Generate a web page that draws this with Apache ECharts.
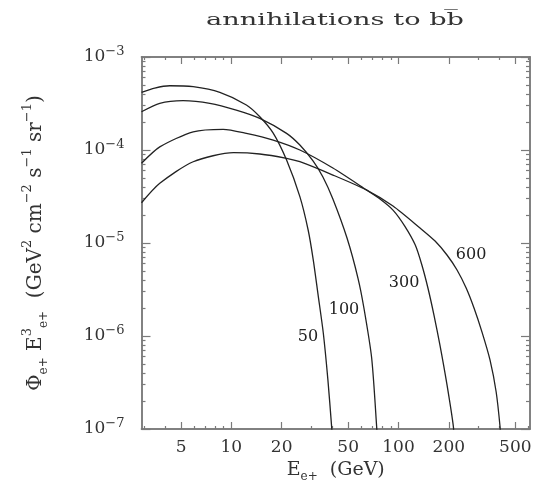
<!DOCTYPE html>
<html>
<head>
<meta charset="utf-8">
<script src="https://cdn.jsdelivr.net/npm/echarts@6/dist/echarts.min.js"></script>
<style>
  html, body { margin: 0; padding: 0; background: #fff; }
  #chart { width: 545px; height: 485px; }
</style>
</head>
<body>
<div id="chart"></div>
<script>
// WIMP masses (GeV), one curve each
const masses = ['50', '100', '300', '600'];

// positron energy (GeV) and flux Phi*E^3
const e50 = [2.9, 3.48, 4.28, 5.91, 8.53, 12.3, 14.8, 17.8, 21.4, 25.7, 28.8, 30.9, 33.0, 35.5, 37.8, 39.8, 40.5];
const f50 = [4.17e-4, 4.64e-4, 4.91e-4, 4.79e-4, 4.17e-4, 3.05e-4, 2.28e-4, 1.52e-4, 7.8e-5, 3.15e-5, 1.38e-5, 6.6e-6, 2.8e-6, 1.07e-6, 3.4e-7, 1.06e-7, 6.8e-8];

const e100 = [2.9, 3.73, 5.14, 7.43, 10.7, 14.8, 21.4, 25.7, 30.8, 35.3, 40.5, 49.2, 57.2, 62.1, 69.1, 74.0, 74.9];
const f100 = [2.58e-4, 3.18e-4, 3.39e-4, 3.18e-4, 2.69e-4, 2.19e-4, 1.51e-4, 1.13e-4, 7.62e-5, 5.13e-5, 2.97e-5, 1.13e-5, 4.2e-6, 2.0e-6, 5.8e-7, 1.06e-7, 6.8e-8];

const e300 = [2.9, 3.73, 5.91, 8.93, 12.3, 17.8, 25.7, 40.5, 64.5, 77.5, 92.7, 109, 126, 138, 150, 163, 177, 195, 213, 215];
const f300 = [7.19e-5, 1.08e-4, 1.57e-4, 1.67e-4, 1.51e-4, 1.28e-4, 1.0e-4, 6.4e-5, 3.71e-5, 2.97e-5, 2.26e-5, 1.52e-5, 9.5e-6, 5.8e-6, 3.28e-6, 1.68e-6, 8.0e-7, 3.0e-7, 1.06e-7, 6.8e-8];

const e600 = [2.9, 3.73, 5.91, 10.3, 14.8, 21.4, 25.7, 40.5, 64.5, 92.7, 134.5, 165.5, 195, 224, 254, 283, 316, 353, 384, 405, 411];
const f600 = [2.71e-5, 4.38e-5, 7.48e-5, 9.35e-5, 9.06e-5, 8.14e-5, 7.48e-5, 5.38e-5, 3.71e-5, 2.5e-5, 1.45e-5, 1.05e-5, 7.43e-6, 5.13e-6, 3.28e-6, 2.0e-6, 1.1e-6, 5.5e-7, 2.5e-7, 1.06e-7, 6.8e-8];

// where the mass labels sit next to each curve
const labelE = [28.7, 47.2, 108, 272];
const labelF = [9.75e-7, 1.9e-6, 3.72e-6, 7.43e-6];

// axis ticks
const xMajor = [5, 10, 20, 50, 100, 200, 500];
const xMinor = [3, 4, 6, 7, 8, 9, 30, 40, 60, 70, 80, 90, 300, 400, 600];
const yMajor = [1e-7, 1e-6, 1e-5, 1e-4, 1e-3];
const yMinor = [2e-7, 3e-7, 4e-7, 5e-7, 6e-7, 7e-7, 8e-7, 9e-7,
  2e-6, 3e-6, 4e-6, 5e-6, 6e-6, 7e-6, 8e-6, 9e-6,
  2e-5, 3e-5, 4e-5, 5e-5, 6e-5, 7e-5, 8e-5, 9e-5,
  2e-4, 3e-4, 4e-4, 5e-4, 6e-4, 7e-4, 8e-4, 9e-4];

const font = 'DejaVu Serif';
const frame = '#7a7a7a';
const ink = '#222';
const txt = '#333';

const xs = [e50, e100, e300, e600];
const fs = [f50, f100, f300, f600];

function xAxisOf(position, ticks, len, withLabels) {
  return {
    type: 'log', position: position, min: 2.9, max: 612,
    axisLine: { show: true, lineStyle: { color: frame, width: 1.5 } },
    axisTick: { show: true, inside: true, length: len, customValues: ticks, lineStyle: { color: frame, width: 1.2 } },
    axisLabel: withLabels ? {
      show: true, customValues: ticks, margin: 10, color: txt,
      fontFamily: font, fontSize: 17, formatter: v => String(v)
    } : { show: false },
    splitLine: { show: false },
    minorTick: { show: false }
  };
}

function yAxisOf(position, ticks, len, withLabels) {
  return {
    type: 'log', position: position, min: 1e-7, max: 1e-3,
    axisLine: { show: true, lineStyle: { color: frame, width: 1.5 } },
    axisTick: { show: true, inside: true, length: len, customValues: ticks, lineStyle: { color: frame, width: 1.2 } },
    axisLabel: withLabels ? {
      show: true, customValues: ticks, margin: 17, color: txt,
      formatter: v => '{b|10}{e|\u2212' + Math.round(-Math.log10(v)) + '}',
      rich: {
        b: { fontFamily: font, fontSize: 17, lineHeight: 24, color: txt },
        e: { fontFamily: font, fontSize: 13, lineHeight: 13, verticalAlign: 'top', color: txt }
      }
    } : { show: false },
    splitLine: { show: false },
    minorTick: { show: false }
  };
}

const xAxes = [
  xAxisOf('bottom', xMajor, 7, true),
  xAxisOf('bottom', xMinor, 3, false),
  xAxisOf('top', xMajor, 7, false),
  xAxisOf('top', xMinor, 3, false)
];
xAxes[0].name = '{t|E}{s|e+}{t|  (GeV)}';
xAxes[0].nameLocation = 'middle';
xAxes[0].nameGap = 26;
xAxes[0].nameTextStyle = {
  rich: {
    t: { fontFamily: font, fontSize: 19, lineHeight: 24, color: txt },
    s: { fontFamily: font, fontSize: 12, lineHeight: 12, verticalAlign: 'bottom', color: txt }
  }
};

const yAxes = [
  yAxisOf('left', yMajor, 9, true),
  yAxisOf('left', yMinor, 4, false),
  yAxisOf('right', yMajor, 9, false),
  yAxisOf('right', yMinor, 4, false)
];
yAxes[0].name = '{t|\u03a6}{s|e+}{t| E}{p|3}{s|e+}{t|  (GeV}{p|2}{t| cm}{p|\u22122}{t| s}{p|\u22121}{t| sr}{p|\u22121}{t|)}';
yAxes[0].nameLocation = 'middle';
yAxes[0].nameRotate = 90;
yAxes[0].nameGap = 92;
yAxes[0].nameTextStyle = {
  rich: {
    t: { fontFamily: font, fontSize: 20, lineHeight: 28, color: txt },
    s: { fontFamily: font, fontSize: 12, lineHeight: 12, verticalAlign: 'bottom', color: txt },
    p: { fontFamily: font, fontSize: 13, lineHeight: 13, verticalAlign: 'top', color: txt }
  }
};

const series = masses.map((m, i) => ({
  name: m,
  type: 'line',
  xAxisIndex: 0,
  yAxisIndex: 0,
  data: xs[i].map((e, j) => [e, fs[i][j]]),
  smooth: 0.25,
  showSymbol: false,
  clip: true,
  lineStyle: { color: ink, width: 1.3 },
  markPoint: {
    symbolSize: 0,
    label: { show: true, position: 'inside', color: ink, fontFamily: font, fontSize: 16, formatter: m },
    data: [{ coord: [labelE[i], labelF[i]], value: m }]
  }
}));

const chart = echarts.init(document.getElementById('chart'));
chart.setOption({
  animation: false,
  backgroundColor: '#fff',
  grid: { left: 141.5, right: 15, top: 57, bottom: 56, containLabel: false, outerBoundsMode: 'none' },
  graphic: [{
    type: 'text', x: 335, y: 21, scaleX: 1.6,
    style: {
      text: 'annihilations to b' + 'b\u0305', fill: txt,
      font: '17px "DejaVu Serif"', textAlign: 'center', textVerticalAlign: 'middle'
    }
  }],
  xAxis: xAxes,
  yAxis: yAxes,
  series: series
});
</script>
</body>
</html>
